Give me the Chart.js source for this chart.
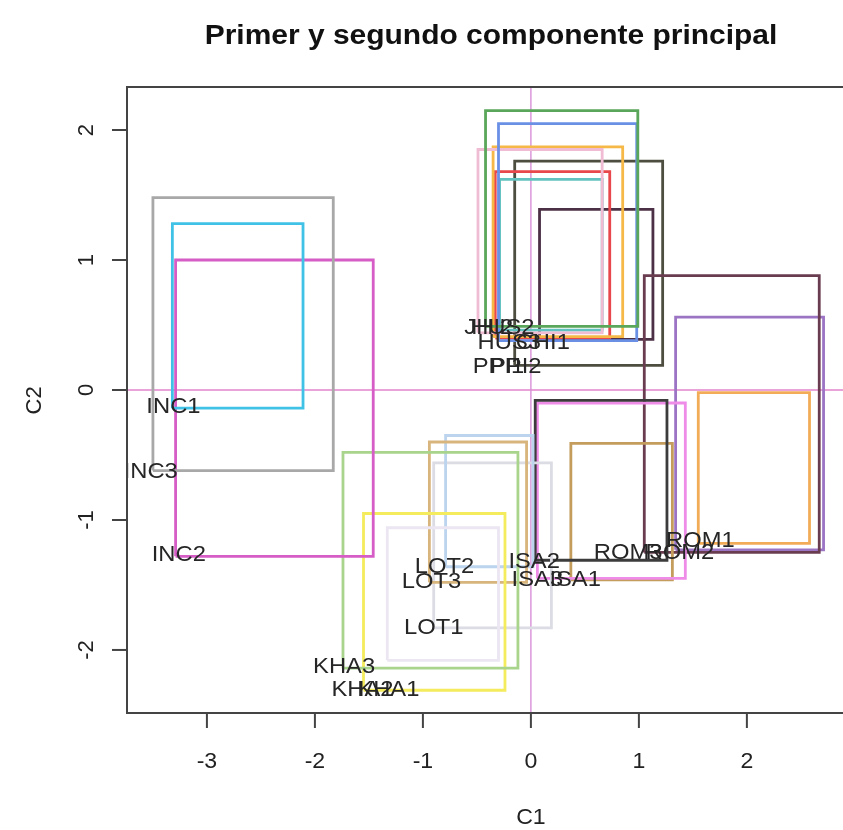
<!DOCTYPE html>
<html>
<head>
<meta charset="utf-8">
<title>Primer y segundo componente principal</title>
<script src="https://cdn.jsdelivr.net/npm/chart.js@4.4.1/dist/chart.umd.min.js"></script>
<style>
  html, body { margin: 0; padding: 0; background: #fff; overflow: hidden; }
  #wrap { width: 843px; height: 830px; }
</style>
</head>
<body>
<div id="wrap"><canvas id="pca" width="843" height="830"></canvas></div>
<script>
// rectangles: lower-left corner (x1, y1) and upper-right corner (x2, y2)
const rectX1 = [-3.32, -3.50, -3.29, -1.74, -1.55, -1.33, -0.94, -0.79, -0.90, 0.04, 0.06, 0.37, 1.05, 1.34, 1.55, -0.42, -0.30, -0.49, -0.35, -0.33, -0.29, -0.15, 0.08];
const rectY1 = [-0.14, -0.62, -1.28, -2.14, -2.31, -2.08, -1.48, -1.36, -1.83, -1.31, -1.45, -1.46, -1.25, -1.23, -1.18, 0.49, 0.38, 0.44, 0.41, 0.40, 0.46, 0.19, 0.39];
const rectX2 = [-2.11, -1.83, -1.46, -0.12, -0.24, -0.30, -0.04, 0.02, 0.19, 1.26, 1.43, 1.31, 2.67, 2.71, 2.58, 0.99, 0.98, 0.66, 0.85, 0.73, 0.66, 1.22, 1.13];
const rectY2 = [1.28, 1.48, 1.00, -0.48, -0.95, -1.06, -0.40, -0.35, -0.56, -0.08, -0.10, -0.41, 0.88, 0.56, -0.02, 2.15, 2.05, 1.85, 1.87, 1.68, 1.62, 1.76, 1.39];
const rectColors = [
  "#40c2e6", "#a8a8a8", "#d65cc6",
  "#a9d48c", "#f4ec5c", "#ebe6f2",
  "#d8b57c", "#bcd4ee", "#dcdce4",
  "#3c3c3c", "#ee8ce8", "#c49c5c",
  "#6a3c50", "#9c74c4", "#f2ac58",
  "#5aa65a", "#6a90e6", "#f0bcd4", "#f6b846", "#e8484c", "#62c2c0", "#4e4e40", "#4c3046"
];

// sample names at their score positions (C1, C2)
const labelText = ["INC1", "INC3", "INC2", "KHA3", "KHA2", "KHA1", "LOT2", "LOT3", "LOT1", "ISA2", "ISA3", "ISA1", "ROM1", "ROM2", "ROM3", "JHI2", "HUS2", "HUS3", "CHI1", "PPI1", "PPI2"];
const labelX = [-3.31, -3.52, -3.26, -1.73, -1.56, -1.32, -0.80, -0.92, -0.90, 0.03, 0.06, 0.41, 1.57, 1.38, 0.90, -0.39, -0.26, -0.20, 0.11, -0.30, -0.14];
const labelY = [-0.13, -0.63, -1.27, -2.13, -2.31, -2.31, -1.36, -1.48, -1.83, -1.32, -1.46, -1.46, -1.16, -1.25, -1.25, 0.48, 0.48, 0.36, 0.36, 0.18, 0.18];

const xTicks = [-3, -2, -1, 0, 1, 2];
const yTicks = [-2, -1, 0, 1, 2];

const X_MIN = -3.74, X_MAX = 2.89, Y_MIN = -2.485, Y_MAX = 2.331;

const datasets = [];
for (let i = 0; i < rectX1.length; i++) {
  datasets.push({
    data: [
      { x: rectX1[i], y: rectY1[i] },
      { x: rectX2[i], y: rectY1[i] },
      { x: rectX2[i], y: rectY2[i] },
      { x: rectX1[i], y: rectY2[i] },
      { x: rectX1[i], y: rectY1[i] }
    ],
    borderColor: rectColors[i],
    borderWidth: 2.8,
    borderJoinStyle: "miter",
    showLine: true,
    fill: false,
    pointRadius: 0,
    tension: 0
  });
}
// reference lines through the origin
datasets.push({
  data: [{ x: 0, y: Y_MIN }, { x: 0, y: Y_MAX }],
  borderColor: "#d890d8", borderWidth: 1.4, showLine: true, pointRadius: 0
});
datasets.push({
  data: [{ x: X_MIN, y: 0 }, { x: X_MAX, y: 0 }],
  borderColor: "#e284cc", borderWidth: 1.4, showLine: true, pointRadius: 0
});

// text slightly widened, like the original device output
function wideText(ctx, t, px, py, sx) {
  ctx.save();
  ctx.translate(px, py);
  ctx.scale(sx, 1);
  ctx.fillText(t, 0, 0);
  ctx.restore();
}

// R-like frame, ticks, labels and title
const rDecor = {
  id: "rDecor",
  afterDatasetsDraw(chart) {
    const { ctx, chartArea: a, scales: { x, y } } = chart;
    ctx.save();
    ctx.beginPath();
    ctx.rect(a.left, a.top, a.right - a.left, a.bottom - a.top);
    ctx.clip();
    ctx.fillStyle = "#262626";
    ctx.font = "22px 'Liberation Sans', Arial, sans-serif";
    ctx.textAlign = "center";
    ctx.textBaseline = "middle";
    labelText.forEach((t, i) => {
      wideText(ctx, t, x.getPixelForValue(labelX[i]), y.getPixelForValue(labelY[i]), 1.08);
    });
    ctx.restore();
  },
  afterDraw(chart) {
    const { ctx, chartArea: a, scales: { x, y } } = chart;
    ctx.save();
    ctx.strokeStyle = "#444";
    ctx.lineWidth = 2;
    ctx.beginPath();
    ctx.moveTo(chart.width + 5, a.top);
    ctx.lineTo(a.left, a.top);
    ctx.lineTo(a.left, a.bottom);
    ctx.lineTo(chart.width + 5, a.bottom);
    ctx.stroke();

    ctx.fillStyle = "#222";
    ctx.font = "22px 'Liberation Sans', Arial, sans-serif";
    ctx.textAlign = "center";
    ctx.textBaseline = "middle";
    xTicks.forEach(v => {
      const px = x.getPixelForValue(v);
      ctx.beginPath();
      ctx.moveTo(px, a.bottom);
      ctx.lineTo(px, a.bottom + 15);
      ctx.stroke();
      wideText(ctx, String(v), px, a.bottom + 49, 1.05);
    });
    yTicks.forEach(v => {
      const py = y.getPixelForValue(v);
      ctx.beginPath();
      ctx.moveTo(a.left, py);
      ctx.lineTo(a.left - 15, py);
      ctx.stroke();
      ctx.save();
      ctx.translate(a.left - 40, py);
      ctx.rotate(-Math.PI / 2);
      ctx.fillText(String(v), 0, 0);
      ctx.restore();
    });

    wideText(ctx, "C1", x.getPixelForValue(0), a.bottom + 105, 1.05);
    ctx.save();
    ctx.translate(35, y.getPixelForValue(-0.08));
    ctx.rotate(-Math.PI / 2);
    ctx.fillText("C2", 0, 0);
    ctx.restore();

    ctx.font = "bold 28px 'Liberation Sans', Arial, sans-serif";
    ctx.fillStyle = "#111";
    wideText(ctx, "Primer y segundo componente principal", 491, 36, 1.07);
    ctx.restore();
  }
};

new Chart(document.getElementById("pca"), {
  type: "scatter",
  data: { datasets },
  options: {
    responsive: false,
    animation: false,
    layout: { padding: { left: 127, top: 87, right: 0, bottom: 117 } },
    plugins: { legend: { display: false }, tooltip: { enabled: false }, title: { display: false } },
    scales: {
      x: { type: "linear", min: X_MIN, max: X_MAX, display: false },
      y: { type: "linear", min: Y_MIN, max: Y_MAX, display: false }
    }
  },
  plugins: [rDecor]
});
</script>
</body>
</html>
